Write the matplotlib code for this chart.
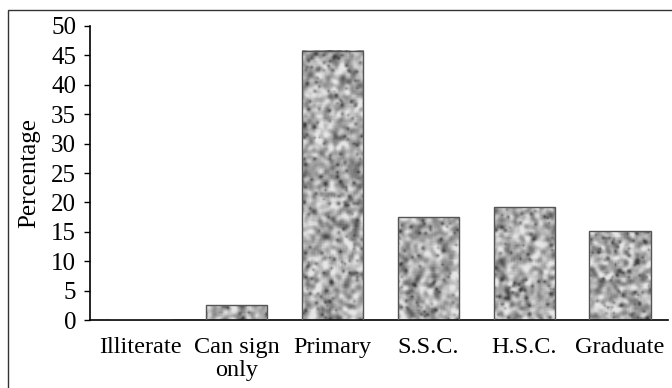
import matplotlib
matplotlib.use("Agg")
import matplotlib.pyplot as plt
from matplotlib.patches import Rectangle
import numpy as np

categories = ["Illiterate", "Can sign\nonly", "Primary", "S.S.C.", "H.S.C.", "Graduate"]
percentages = [0.0, 2.5, 45.8, 17.5, 19.2, 15.1]
yticks = [0, 5, 10, 15, 20, 25, 30, 35, 40, 45, 50]

plt.rcParams['font.family'] = ['Liberation Serif', 'DejaVu Serif']

fig = plt.figure(figsize=(6.72, 3.88), dpi=100)
ax = fig.add_axes([0.134, 0.175, 0.86, 0.758])

# outer frame (top and left edges visible)
fig.patches.append(Rectangle((8 / 672, -0.1), 1.2, 1.1 - 10 / 388,
                             transform=fig.transFigure, fill=False,
                             edgecolor='#333333', linewidth=1.0))

# granite-like texture
rng = np.random.default_rng(7)
def smooth(a, k):
    p = len(k) // 2
    a = np.pad(a.astype(float), p, mode='wrap')
    for axis in (0, 1):
        a = np.apply_along_axis(lambda m: np.convolve(m, k, mode='same'), axis, a)
    return a[p:-p, p:-p]

def granite(h, w):
    k = np.array([1, 2, 3, 2, 1], dtype=float)
    k /= k.sum()
    noise = smooth(rng.random((h, w)), k)
    noise = (noise - noise.mean()) / noise.std()
    img = 0.68 + 0.12 * noise
    dark = smooth(rng.random((h, w)) < 0.025, np.array([0.4, 1, 0.4]))
    img -= 0.3 * np.clip(dark, 0, 1)
    return np.clip(img, 0.25, 0.9)

x = np.arange(len(categories))
width = 0.64
bars = ax.bar(x, percentages, width=width, facecolor='none',
              edgecolor='#555555', linewidth=1.0, zorder=3)
for b in bars:
    h = b.get_height()
    if h <= 0:
        continue
    rows = max(int(h * 5.9 / 1.5), 2)
    img = granite(rows, 41)
    ax.imshow(img, cmap='gray', vmin=0, vmax=1, aspect='auto',
              extent=(b.get_x(), b.get_x() + width, 0, h), zorder=2,
              interpolation='bilinear')

ax.set_xlim(-0.53, len(categories) - 0.5)
ax.set_ylim(0, 50)
ax.set_yticks(yticks)
ax.set_xticks(x)
ax.set_xticklabels(categories, fontsize=17.5, linespacing=1.15)
ax.tick_params(axis='x', length=0, pad=12)
ax.tick_params(axis='y', length=4, width=1, direction='out', labelsize=18, pad=6)
ax.set_ylabel("Percentage", fontsize=18)
ax.yaxis.set_label_coords(-0.086, 0.5)
for s in ('top', 'right'):
    ax.spines[s].set_visible(False)
for s in ('left', 'bottom'):
    ax.spines[s].set_linewidth(1.2)
    ax.spines[s].set_color('black')

fig.savefig("out.png", dpi=100)
